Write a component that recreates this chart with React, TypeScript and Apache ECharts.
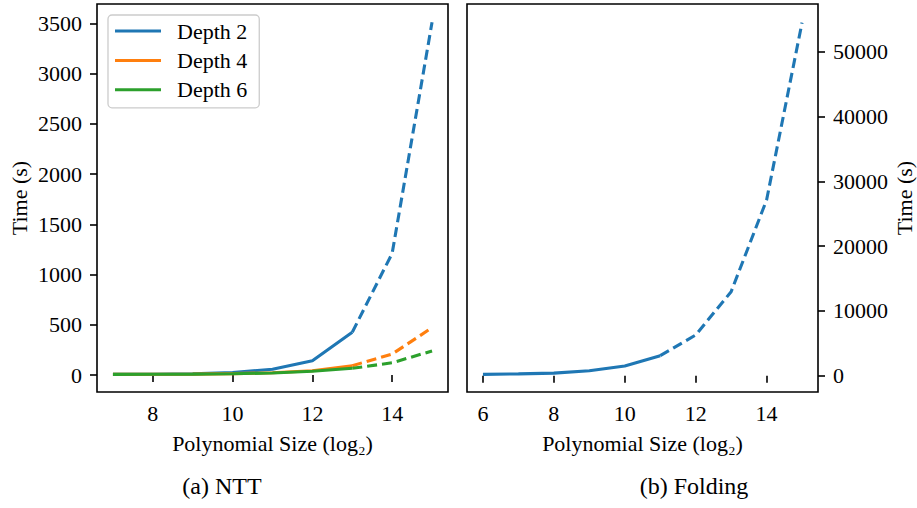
import React, { useEffect, useRef } from "react";
import * as echarts from "echarts";

// ---- data ----
const nttSizes = [7, 8, 9, 10, 11, 12, 13, 14, 15];
const depth2 = [6, 8, 11, 25, 57, 142, 425, 1211, 3510];
const depth4 = [6, 7, 9, 14, 22, 42, 93, 209, 471];
const depth6 = [6, 7, 9, 13, 20, 37, 67, 122, 239];
const nttMeasuredUpTo = 13;

const foldSizes = [6, 7, 8, 9, 10, 11, 12, 13, 14, 15];
const folding = [200, 280, 400, 770, 1500, 3090, 6280, 12960, 27110, 54480];
const foldMeasuredUpTo = 11;

const nttXTicks = [8, 10, 12, 14];
const foldXTicks = [6, 8, 10, 12, 14];
const nttYTicks = [0, 500, 1000, 1500, 2000, 2500, 3000, 3500];
const foldYTicks = [0, 10000, 20000, 30000, 40000, 50000];

const legendNames = ["Depth 2", "Depth 4", "Depth 6"];
const colors = ["#1f77b4", "#ff7f0e", "#2ca02c"];

const FONT = "'Liberation Serif', 'Times New Roman', serif";
const FS = 22;

function pairs(xs: number[], ys: number[]) {
  return xs.map((x, i) => [x, ys[i]]);
}
function solidPart(xs: number[], ys: number[], cut: number) {
  return pairs(xs, ys).filter((p) => p[0] <= cut);
}
function dashedPart(xs: number[], ys: number[], cut: number) {
  return pairs(xs, ys).filter((p) => p[0] >= cut);
}

const textStyle = { fontFamily: FONT, fontSize: FS, color: "#000" };

function xAxisOf(grid: number, min: number, max: number, ticks: number[]) {
  return {
    type: "value",
    gridIndex: grid,
    min,
    max,
    axisLine: { show: false },
    axisTick: { show: true, length: 7, lineStyle: { color: "#000", width: 1.6 }, customValues: ticks },
    axisLabel: { ...textStyle, margin: 10, customValues: ticks, formatter: (v: number) => String(v) },
    splitLine: { show: false },
    name: "Polynomial Size (log\u2082)",
    nameLocation: "middle",
    nameGap: 40,
    nameTextStyle: { ...textStyle },
  };
}

function yAxisOf(grid: number, min: number, max: number, ticks: number[], pos: string, gap: number) {
  return {
    type: "value",
    gridIndex: grid,
    position: pos,
    min,
    max,
    axisLine: { show: false },
    axisTick: { show: true, length: 7, lineStyle: { color: "#000", width: 1.6 }, customValues: ticks },
    axisLabel: { ...textStyle, margin: 15, customValues: ticks, formatter: (v: number) => String(v) },
    splitLine: { show: false },
    name: "Time (s)",
    nameLocation: "middle",
    nameRotate: 90,
    nameGap: gap,
    nameTextStyle: { ...textStyle },
  };
}

const LW = 3.1;
const DASH = [10, 5];

export default function App() {
  const ref = useRef<HTMLDivElement>(null);
  useEffect(() => {
    document.body.style.margin = "0";
    if (!ref.current) return;
    const chart = echarts.init(ref.current, undefined, { renderer: "svg" });
    const nttSeries: any[] = [];
    [depth2, depth4, depth6].forEach((ys, i) => {
      nttSeries.push({
        type: "line",
        name: legendNames[i],
        xAxisIndex: 0,
        yAxisIndex: 0,
        data: solidPart(nttSizes, ys, nttMeasuredUpTo),
        showSymbol: false,
        symbol: "none",
        lineStyle: { color: colors[i], width: LW },
        itemStyle: { color: colors[i] },
      });
      nttSeries.push({
        type: "line",
        name: legendNames[i] + " (projected)",
        xAxisIndex: 0,
        yAxisIndex: 0,
        data: dashedPart(nttSizes, ys, nttMeasuredUpTo),
        showSymbol: false,
        symbol: "none",
        lineStyle: { color: colors[i], width: LW, type: DASH },
        itemStyle: { color: colors[i] },
      });
    });
    const foldSeries = [
      {
        type: "line",
        name: "Folding",
        xAxisIndex: 1,
        yAxisIndex: 1,
        data: solidPart(foldSizes, folding, foldMeasuredUpTo),
        symbol: "none",
        lineStyle: { color: colors[0], width: LW },
        itemStyle: { color: colors[0] },
      },
      {
        type: "line",
        name: "Folding (projected)",
        xAxisIndex: 1,
        yAxisIndex: 1,
        data: dashedPart(foldSizes, folding, foldMeasuredUpTo),
        symbol: "none",
        lineStyle: { color: colors[0], width: LW, type: DASH },
        itemStyle: { color: colors[0] },
      },
    ];
    chart.setOption({
      animation: false,
      backgroundColor: "#fff",
      grid: [
        { left: 97, top: 4, width: 351, height: 388, show: true, borderColor: "#000", borderWidth: 1.6, containLabel: false },
        { left: 467, top: 4, width: 351, height: 388, show: true, borderColor: "#000", borderWidth: 1.6, containLabel: false },
      ],
      xAxis: [xAxisOf(0, 6.6, 15.4, nttXTicks), xAxisOf(1, 5.55, 15.45, foldXTicks)],
      yAxis: [
        yAxisOf(0, -169, 3692, nttYTicks, "left", 67),
        yAxisOf(1, -2515, 57360, foldYTicks, "right", 75),
      ],
      legend: {
        data: legendNames,
        orient: "vertical",
        left: 108,
        top: 15,
        icon: "rect",
        itemWidth: 46,
        itemHeight: 3,
        itemGap: 7.4,
        padding: [5, 12, 7, 7],
        backgroundColor: "#fff",
        borderColor: "#cccccc",
        borderWidth: 1.3,
        borderRadius: 4,
        textStyle: { ...textStyle, lineHeight: 22, padding: [0, 0, 0, 11] },
        selectedMode: false,
      },
      graphic: [
        {
          type: "text",
          x: 222,
          y: 486,
          style: { text: "(a) NTT", fontFamily: FONT, fontSize: 24, fill: "#000", align: "center", verticalAlign: "middle" },
        },
        {
          type: "text",
          x: 694,
          y: 486,
          style: { text: "(b) Folding", fontFamily: FONT, fontSize: 24, fill: "#000", align: "center", verticalAlign: "middle" },
        },
      ],
      series: [...nttSeries, ...foldSeries],
    });
    return () => chart.dispose();
  }, []);
  return <div ref={ref} style={{ width: 917, height: 508 }} />;
}
